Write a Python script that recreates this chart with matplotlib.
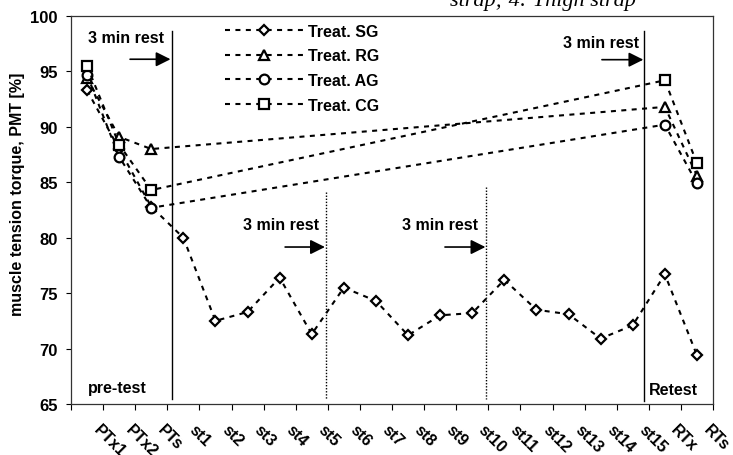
"""Muscle tension torque (PMT) across pre-test, stimulation series and retest."""

import matplotlib

matplotlib.use("Agg")
import matplotlib.pyplot as plt
import numpy as np
from matplotlib.transforms import ScaledTranslation

plt.rcParams["font.family"] = ["Liberation Sans", "DejaVu Sans"]
plt.rcParams["font.weight"] = "bold"
plt.rcParams["axes.labelweight"] = "bold"

categories = ["PTx1", "PTx2", "PTs"] + [f"st{i}" for i in range(1, 16)] + ["RTx", "RTs"]
nan = np.nan
sg = [93.3, 88.0, 82.8, 80.0, 72.5, 73.3, 76.4, 71.3, 75.5, 74.3,
      71.2, 73.0, 73.2, 76.2, 73.5, 73.1, 70.9, 72.1, 76.7, 69.4]
rg = [94.4, 89.1, 88.0] + [nan] * 15 + [91.8, 85.6]
ag = [94.7, 87.3, 82.7] + [nan] * 15 + [90.2, 84.9]
cg = [95.5, 88.4, 84.3] + [nan] * 15 + [94.2, 86.7]

series = [
    ("Treat. SG", sg, "D", 5.0),
    ("Treat. RG", rg, "^", 7.0),
    ("Treat. AG", ag, "o", 7.0),
    ("Treat. CG", cg, "s", 7.0),
]

fig = plt.figure(figsize=(7.33, 4.56), dpi=100)
ax = fig.add_axes([71 / 733, 51 / 456, 642 / 733, 388 / 456])

x = np.arange(len(categories))
for label, values, marker, size in series:
    vals = np.array(values, dtype=float)
    keep = ~np.isnan(vals)
    ax.plot(x[keep], vals[keep], color="black", lw=1.5, dashes=(2.4, 2.6),
            marker=marker, markersize=size, markerfacecolor="white",
            markeredgecolor="black", markeredgewidth=1.6, label=label)

ax.set_xlim(-0.5, len(categories) - 0.5)
ax.set_ylim(65, 100)
ax.set_yticks(np.arange(65, 101, 5))
ax.tick_params(axis="y", direction="out", length=3.5, width=0.8, pad=6, labelsize=12)

ax.set_xticks(x)
ax.set_xticks(np.arange(-0.5, len(categories), 1.0), minor=True)
ax.set_xticklabels(categories, rotation=-45, ha="left", va="top",
                   rotation_mode="anchor", fontsize=11.5)
ax.tick_params(axis="x", which="major", length=0, pad=0)
ax.tick_params(axis="x", which="minor", direction="out", length=4.5, width=0.8)
shift = ScaledTranslation(14 / 100, -18 / 100, fig.dpi_scale_trans)
for lab in ax.get_xticklabels():
    lab.set_transform(lab.get_transform() + shift)

for side in ["left", "bottom", "top", "right"]:
    ax.spines[side].set_linewidth(0.9)
    ax.spines[side].set_color("#333333")

ax.set_ylabel("muscle tension torque, PMT [%]", fontsize=11.5)
ax.yaxis.set_label_coords(-0.072, 0.544)

# rest / phase separators
ax.plot([2.64, 2.64], [98.65, 65.45], color="black", lw=1.0)
ax.plot([17.36, 17.36], [98.65, 65.3], color="black", lw=1.0)
ax.plot([7.43, 7.43], [84.1, 65.45], color="black", lw=1.0, ls=(0, (1, 1.2)))
ax.plot([12.43, 12.43], [84.6, 65.45], color="black", lw=1.0, ls=(0, (1, 1.2)))

rest_notes = [
    (1.20, 98.1, 1.34, 2.60, 96.1),
    (6.03, 81.15, 6.17, 7.41, 79.16),
    (11.01, 81.15, 11.15, 12.41, 79.16),
    (16.01, 97.65, 16.04, 17.33, 96.06),
]
for tx, ty, ax0, ax1, ay in rest_notes:
    ax.text(tx, ty, "3 min rest", ha="center", va="center", fontsize=11.5)
    ax.annotate("", xy=(ax1, ay), xytext=(ax0, ay),
                arrowprops=dict(arrowstyle="-|>", mutation_scale=22, lw=1.2,
                                color="black", shrinkA=0, shrinkB=0))

ax.text(0.93, 66.5, "pre-test", ha="center", va="center", fontsize=11.5)
ax.text(18.27, 66.35, "Retest", ha="center", va="center", fontsize=11.5)

ax.legend(loc="upper left", bbox_to_anchor=(0.24, 0.98), frameon=False,
          borderpad=0, borderaxespad=0, handlelength=4.9, handletextpad=0.3,
          labelspacing=0.6, fontsize=11.5)

fig.text(450 / 733, 1 - 6 / 456, "strap; 4: Thigh strap", fontsize=16,
         family="Liberation Serif", style="italic", weight="normal",
         ha="left", va="baseline")

fig.savefig("out.png", dpi=100)
